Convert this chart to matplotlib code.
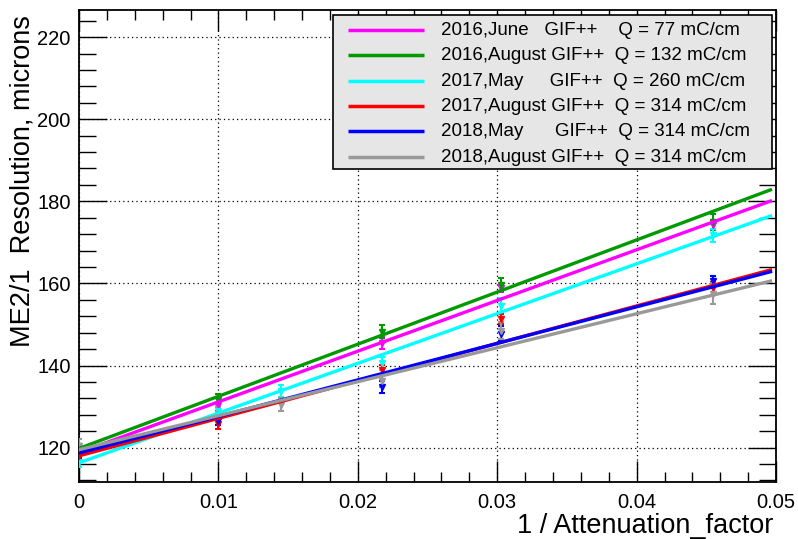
import matplotlib.pyplot as plt
import numpy as np
from matplotlib.patches import Rectangle
from matplotlib.ticker import MultipleLocator

plt.rcParams['font.family'] = ['Liberation Sans', 'DejaVu Sans']

# --- measured points: 1/attenuation vs resolution (microns) ---
x_june16 = [0, 0.01, 0.0217, 0.0303, 0.0455]
y_june16 = [119.0, 130.5, 145.5, 158.8, 174.2]
e_june16 = [1.5, 1.5, 1.5, 1.0, 1.2]

x_aug16 = [0, 0.01, 0.0217, 0.0303, 0.0455]
y_aug16 = [119.5, 131.5, 148.2, 159.7, 175.0]
e_aug16 = [1.5, 1.5, 1.6, 1.6, 2.0]

x_may17 = [0, 0.01, 0.0145, 0.0217, 0.0303, 0.0455]
y_may17 = [116.5, 129.0, 133.8, 140.5, 154.5, 171.7]
e_may17 = [1.2, 1.5, 1.5, 1.5, 2.0, 1.5]

x_aug17 = [0, 0.01, 0.0217, 0.0303, 0.0455]
y_aug17 = [118.0, 125.7, 139.0, 151.3, 158.8]
e_aug17 = [1.2, 1.2, 1.2, 1.2, 1.5]

x_may18 = [0, 0.01, 0.0217, 0.0303, 0.0455]
y_may18 = [119.0, 126.5, 134.8, 147.8, 160.5]
e_may18 = [1.5, 1.0, 1.5, 1.8, 1.2]

x_aug18 = [0, 0.01, 0.0145, 0.0217, 0.0303, 0.0455]
y_aug18 = [120.5, 128.3, 130.5, 136.3, 148.5, 157.5]
e_aug18 = [1.5, 1.5, 1.5, 1.5, 2.0, 2.5]

# linear fit results (p0 + p1*x)
fit_p0 = [118.8, 119.8, 116.3, 118.0, 118.7, 119.5]
fit_p1 = [1235, 1270, 1212, 913, 890, 828]
fit_xmax = 0.0496

labels = ['2016,June   GIF++    Q = 77 mC/cm',
          '2016,August GIF++  Q = 132 mC/cm',
          '2017,May     GIF++  Q = 260 mC/cm',
          '2017,August GIF++  Q = 314 mC/cm',
          '2018,May      GIF++  Q = 314 mC/cm',
          '2018,August GIF++  Q = 314 mC/cm']
colors = ['#ff00ff', '#009900', '#00ffff', '#ff0000', '#0000ff', '#999999']

series = [(x_june16, y_june16, e_june16), (x_aug16, y_aug16, e_aug16),
          (x_may17, y_may17, e_may17), (x_aug17, y_aug17, e_aug17),
          (x_may18, y_may18, e_may18), (x_aug18, y_aug18, e_aug18)]

fig = plt.figure(figsize=(7.98, 5.39), dpi=100)
ax = fig.add_axes([0.099, 0.1063, 0.8735, 0.8751])

for (xs, ys, es), p0, p1, c in zip(series, fit_p0, fit_p1, colors):
    ax.errorbar(xs, ys, yerr=es, fmt='v', color=c, ms=4, elinewidth=1.5,
                capsize=2.5, capthick=1.5, zorder=3)
    xf = np.linspace(0, fit_xmax, 50)
    ax.plot(xf, p0 + p1 * xf, color=c, lw=2.4, zorder=4)

ax.set_xlim(0, 0.05)
ax.set_ylim(111.7, 226.6)
ax.xaxis.set_major_locator(MultipleLocator(0.01))
ax.xaxis.set_minor_locator(MultipleLocator(0.002))
ax.yaxis.set_major_locator(MultipleLocator(20))
ax.yaxis.set_minor_locator(MultipleLocator(4))
ax.set_xticks([0, 0.01, 0.02, 0.03, 0.04, 0.05])
ax.set_xticklabels(['0', '0.01', '0.02', '0.03', '0.04', '0.05'])

ax.tick_params(axis='both', which='both', direction='in', top=True, right=True,
               labelsize=14.5, width=1, color='black')
ax.tick_params(axis='x', which='major', length=15, pad=8)
ax.tick_params(axis='x', which='minor', length=7)
ax.tick_params(axis='y', which='major', length=20, pad=6)
ax.tick_params(axis='y', which='minor', length=12)
ax.grid(True, which='major', color='black', ls=(0, (1, 2.5)), lw=0.9)
for s in ax.spines.values():
    s.set_linewidth(1.3)

# axis titles, ROOT style (aligned to the axis end)
fig.text(0.0276, 0.665, 'ME2/1  Resolution, microns', fontsize=19.5,
         rotation=90, ha='center', va='center')
fig.text(0.969, 0.0111, '1 / Attenuation_factor', fontsize=19.5,
         ha='right', va='baseline')

# legend box
ax.add_patch(Rectangle((0.3644, 0.663), 0.6296, 0.3264, transform=ax.transAxes,
                       facecolor='#e6e6e6', edgecolor='black', lw=1.2, zorder=6))
row_y = [0.957, 0.904, 0.849, 0.796, 0.743, 0.688]
for yy, lab, c in zip(row_y, labels, colors):
    ax.plot([0.386, 0.495], [yy, yy], color=c, lw=2.5, transform=ax.transAxes,
            zorder=7, solid_capstyle='butt')
    ax.text(0.519, yy, lab, transform=ax.transAxes, fontsize=13.5,
            va='center', ha='left', zorder=7)

fig.savefig('out.png', dpi=100)
